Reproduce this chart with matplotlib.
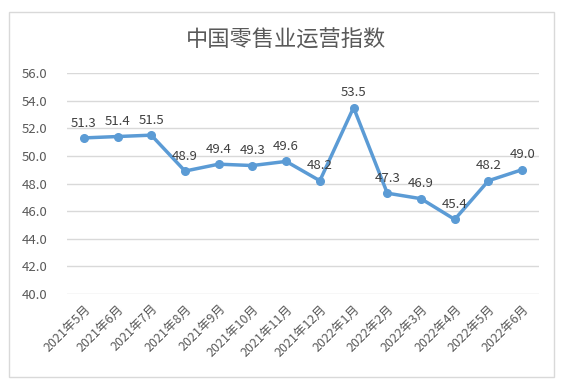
import matplotlib
matplotlib.use("Agg")
import matplotlib.pyplot as plt
from matplotlib.patches import Rectangle

plt.rcParams['font.family'] = ['Noto Sans CJK SC', 'DejaVu Sans']

categories = ["2021年5月", "2021年6月", "2021年7月", "2021年8月", "2021年9月", "2021年10月",
              "2021年11月", "2021年12月", "2022年1月", "2022年2月", "2022年3月", "2022年4月",
              "2022年5月", "2022年6月"]
values = [51.3, 51.4, 51.5, 48.9, 49.4, 49.3, 49.6, 48.2, 53.5, 47.3, 46.9, 45.4, 48.2, 49.0]
title = "中国零售业运营指数"
yticks = [40, 42, 44, 46, 48, 50, 52, 54, 56]

fig = plt.figure(figsize=(5.72, 3.89), dpi=100)
fig.patches.append(Rectangle((9/572, 1-377/389), (554-9)/572, (377-12)/389,
                             transform=fig.transFigure, fill=False,
                             edgecolor='#D9D9D9', linewidth=1))
ax = fig.add_axes([67/572, 1-294/389, (539-67)/572, (294-73)/389])

x = list(range(len(categories)))
ax.plot(x, values, color='#5B9BD5', linewidth=2.5, marker='o', markersize=5.5, zorder=3)
for xi, v in zip(x, values):
    ax.annotate(f"{v:.1f}", (xi, v), xytext=(0, 6), textcoords='offset points',
                ha='center', va='bottom', fontsize=9.5, color='#404040')

ax.set_xlim(-0.5, len(categories) - 0.5)
ax.set_ylim(40, 56)
ax.set_yticks(yticks)
ax.set_yticklabels([f"{t:.1f}" for t in yticks], fontsize=9.5, color='#595959')
ax.set_xticks(x)
ax.set_xticklabels(categories, rotation=45, ha='right', rotation_mode='anchor',
                   fontsize=9, color='#595959')
ax.grid(axis='y', color='#D9D9D9', linewidth=1)
ax.set_axisbelow(True)
for s in ax.spines.values():
    s.set_visible(False)
ax.tick_params(length=0, pad=6)
ax.tick_params(axis='y', pad=14)

fig.text(0.5, 1-40/389, title, ha='center', va='center', fontsize=16, color='#595959')

fig.savefig("out.png", dpi=100, facecolor='white')
